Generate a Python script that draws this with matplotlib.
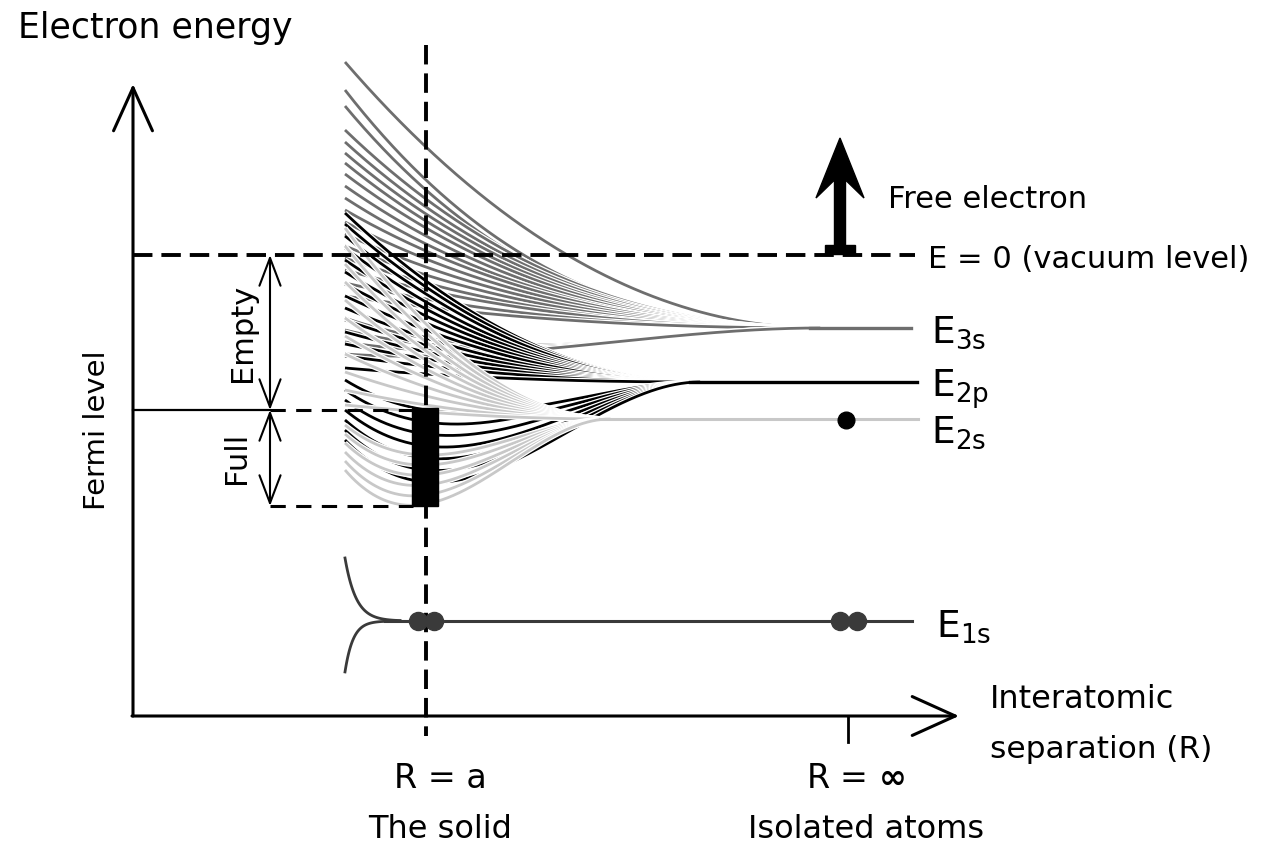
import numpy as np
import matplotlib.pyplot as plt
from matplotlib.patches import Rectangle
import matplotlib.patheffects as pe

# the diagram is drawn in picture units (1268 x 843, y grows downwards)
W, H = 1268, 843

R_a = 426        # R = a, the solid
R_inf = 848      # R = infinity, isolated atoms
R_left = 345     # where the band fans start

E_vac = 255      # E = 0 (vacuum level)
E_fermi = 410
E_bottom = 506   # bottom of the occupied band

# 3s band: level, merge point, curve heights at the left edge and at R = a
E3s = 328
E3s_merge = 820
E3s_left = [62, 90, 106, 130, 142, 153, 163, 174, 186, 198, 210, 222, 234, 246,
            258, 270, 283, 296, 318, 330, 342, 354]
E3s_mid = [147, 180, 190, 199, 207, 214, 221, 228, 236, 244, 251, 259, 267, 275,
           283, 290, 299, 307, 338, 344, 350, 356]

# 2p band
E2p = 382
E2p_merge = 700
E2p_left = [213, 224, 236, 248, 260, 272, 284, 296, 308, 320, 332, 344, 356, 368,
            380, 390, 400, 410, 420, 430, 440]
E2p_mid = [281, 287, 294, 302, 309, 316, 323, 330, 338, 345, 352, 359, 366, 374,
           410, 422, 434, 446, 458, 470, 482]

# 2s band
E2s = 419
E2s_merge = 610
E2s_left = [228, 246, 264, 282, 300, 318, 336, 354, 372, 390, 405,
            425, 434, 443, 452, 461, 470]
E2s_mid = [324, 333, 342, 351, 360, 369, 378, 387, 396, 405, 412,
           455, 465, 475, 485, 495, 504]

# 1s level: stays sharp until the atoms are very close
E1s = 621
E1s_left = [558, 656]
E1s_width = [11, 8]

level_names = ['E$_\\mathregular{3s}$', 'E$_\\mathregular{2p}$',
               'E$_\\mathregular{2s}$', 'E$_\\mathregular{1s}$']
level_end = [911, 917, 918, 912]
level_label_x = [931, 931, 931, 936]
level_label_base = [343, 397, 443, 637]

c3s, c2p, c2s, c1s = '#6e6e6e', 'black', '#c8c8c8', '#3a3a3a'


def band_curve(x, level, merge, y_left, y_mid):
    u = np.clip((merge - x) / (merge - R_left), 0, None)
    ua = (merge - R_a) / (merge - R_left)
    alpha = y_left - level
    beta = ((y_mid - level) / ua ** 2 - alpha) / (1 - ua)
    return level + u ** 2 * (alpha + beta * (1 - u))


fig = plt.figure(figsize=(W / 100, H / 100), dpi=100)
ax = fig.add_axes([0, 0, 1, 1])
ax.set_xlim(0, W)
ax.set_ylim(H, 0)
ax.axis('off')

halo = [pe.withStroke(linewidth=3.8, foreground='white')]

# band fans
bands = [(E3s, E3s_merge, E3s_left, E3s_mid, c3s),
         (E2p, E2p_merge, E2p_left, E2p_mid, c2p),
         (E2s, E2s_merge, E2s_left, E2s_mid, c2s)]
for level, merge, lefts, mids, col in bands:
    x = np.linspace(R_left, merge, 300)
    for yl, ym in zip(lefts, mids):
        ax.plot(x, band_curve(x, level, merge, yl, ym), color=col, lw=2.0,
                path_effects=halo, solid_capstyle='butt', zorder=2)

# sharp levels
ax.plot([E3s_merge - 10, level_end[0]], [E3s, E3s], color=c3s, lw=2.4, zorder=3)
ax.plot([E2p_merge - 10, level_end[1]], [E2p, E2p], color=c2p, lw=2.4, zorder=3)
ax.plot([E2s_merge - 10, level_end[2]], [E2s, E2s], color=c2s, lw=2.2, zorder=3)

x1 = np.linspace(R_left, 400, 100)
ax.plot(x1, E1s - (E1s - E1s_left[0]) * np.exp(-(x1 - R_left) / E1s_width[0]),
        color=c1s, lw=2.0, zorder=3)
ax.plot(x1, E1s + (E1s_left[1] - E1s) * np.exp(-(x1 - R_left - 3) / E1s_width[1]),
        color=c1s, lw=2.0, zorder=3)
ax.plot([385, level_end[3]], [E1s, E1s], color=c1s, lw=2.2, zorder=3)

# electrons
ax.plot([R_a - 8, R_a + 8, R_inf - 8, R_inf + 9], [E1s] * 4, 'o', color=c1s,
        ms=13, zorder=6)
ax.plot([R_inf - 2], [E2s + 1], 'o', color='black', ms=12, zorder=6)

for name, xl, yb in zip(level_names, level_label_x, level_label_base):
    ax.text(xl, yb, name, fontsize=27, va='baseline', ha='left')

# axes with open arrow heads
axis_arrow = dict(arrowstyle='->,head_length=1.55,head_width=0.7', lw=2.2,
                  color='black', shrinkA=0, shrinkB=0, mutation_scale=20)
ax.annotate('', xy=(133, 84), xytext=(133, 716), arrowprops=axis_arrow)
ax.annotate('', xy=(959, 716), xytext=(132, 716), arrowprops=axis_arrow)
ax.plot([R_inf, R_inf], [716, 742], color='black', lw=2.0)

dash_big = (0, (5, 2.3))
ax.plot([R_a, R_a], [45, 736], color='black', lw=2.8, linestyle=dash_big, zorder=5)
ax.plot([133, 915], [E_vac, E_vac], color='black', lw=2.8, linestyle=dash_big,
        zorder=5)

# Fermi level, empty / full states
ax.plot([133, 270], [E_fermi, E_fermi], color='black', lw=1.6, zorder=5)
dash_small = (0, (5, 3.4))
ax.plot([270, 413], [E_fermi, E_fermi], color='black', lw=2.2, linestyle=dash_small,
        zorder=5)
ax.plot([270, 413], [E_bottom, E_bottom], color='black', lw=2.2, linestyle=dash_small,
        zorder=5)
ax.add_patch(Rectangle((412, E_fermi - 2), 26, E_bottom - E_fermi + 2,
                       color='black', zorder=6))

span_arrow = dict(arrowstyle='<->,head_length=1.0,head_width=0.38', lw=1.5,
                  color='black', shrinkA=0, shrinkB=0, mutation_scale=20)
ax.annotate('', xy=(270, E_vac), xytext=(270, E_fermi), arrowprops=span_arrow)
ax.annotate('', xy=(270, E_fermi), xytext=(270, E_bottom), arrowprops=span_arrow)

# free electron
ax.arrow(840, 247, 0, -109, width=11, head_width=48, head_length=60, overhang=0.3,
         length_includes_head=True, color='black', zorder=6)
ax.add_patch(Rectangle((825, 245), 30, 9, color='black', zorder=6))

# texts
ax.text(18, 38, 'Electron energy', fontsize=25, va='baseline')
ax.text(97, 430, 'Fermi level', fontsize=21, rotation=90, ha='center', va='center')
ax.text(243, 333, 'Empty', fontsize=22, rotation=90, ha='center', va='center')
ax.text(237, 458, 'Full', fontsize=22, rotation=90, ha='center', va='center')
ax.text(888, 208, 'Free electron', fontsize=22, va='baseline')
ax.text(928, 268, 'E = 0 (vacuum level)', fontsize=22, va='baseline')
ax.text(990, 708, 'Interatomic', fontsize=23, va='baseline')
ax.text(990, 758, 'separation (R)', fontsize=22.5, va='baseline')
ax.text(R_a + 14, 788, 'R = a', fontsize=24, ha='center', va='baseline')
ax.text(R_a + 14, 838, 'The solid', fontsize=23, ha='center', va='baseline')
ax.text(R_inf + 8, 788, r'R = $\boldsymbol{\infty}$', fontsize=24, ha='center',
        va='baseline')
ax.text(R_inf + 18, 838, 'Isolated atoms', fontsize=23, ha='center', va='baseline')

fig.savefig('out.png', dpi=100)
